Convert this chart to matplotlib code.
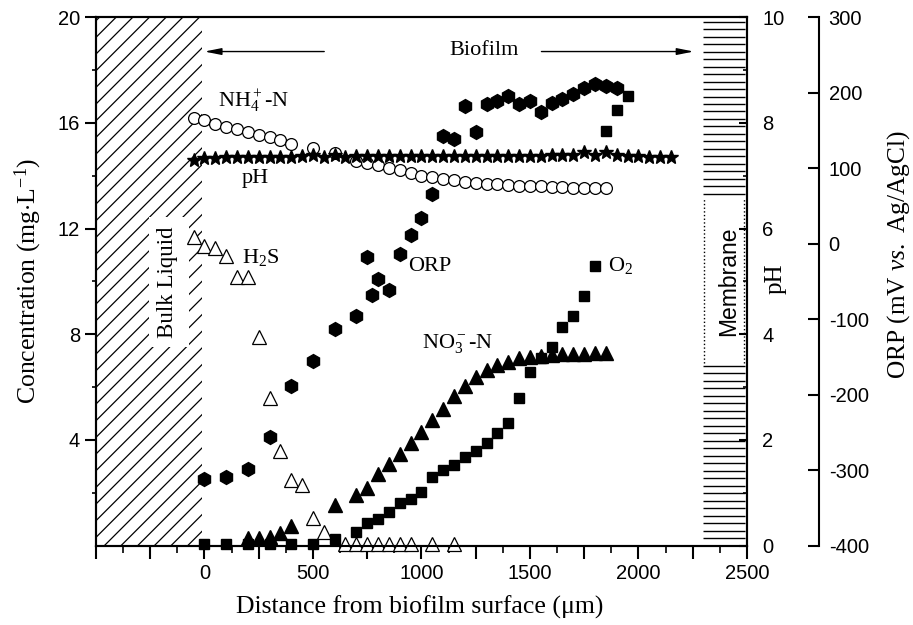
import numpy as np
import matplotlib
matplotlib.use('Agg')
import matplotlib.pyplot as plt
from matplotlib.patches import Rectangle
from matplotlib.ticker import FixedLocator, FuncFormatter

plt.rcParams['font.family'] = ['Liberation Sans', 'DejaVu Sans']
plt.rcParams['mathtext.fontset'] = 'custom'
plt.rcParams['mathtext.rm'] = 'Liberation Serif'
plt.rcParams['mathtext.it'] = 'Liberation Serif:italic'
plt.rcParams['mathtext.bf'] = 'Liberation Serif:bold'
plt.rcParams['hatch.linewidth'] = 0.9
plt.rcParams['axes.unicode_minus'] = False

SERIF = 'Liberation Serif'

# ---------------- data ----------------
nh4_x = [-50, 0, 50, 100, 150, 200, 250, 300, 350, 400, 500, 600, 700, 750, 800, 850, 900,
         950, 1000, 1050, 1100, 1150, 1200, 1250, 1300, 1350, 1400, 1450, 1500, 1550, 1600,
         1650, 1700, 1750, 1800, 1850]
nh4_y = [16.2, 16.1, 15.95, 15.85, 15.78, 15.65, 15.55, 15.45, 15.35, 15.2, 15.05, 14.85,
         14.57, 14.5, 14.4, 14.28, 14.2, 14.12, 14.0, 13.94, 13.88, 13.82, 13.78, 13.74,
         13.70, 13.67, 13.65, 13.63, 13.62, 13.60, 13.58, 13.57, 13.55, 13.54, 13.53, 13.52]

ph_x = [-50, 0, 50, 100, 150, 200, 250, 300, 350, 400, 450, 500, 550, 600, 650, 700, 750,
        800, 850, 900, 950, 1000, 1050, 1100, 1150, 1200, 1250, 1300, 1350, 1400, 1450,
        1500, 1550, 1600, 1650, 1700, 1750, 1800, 1850, 1900, 1950, 2000, 2050, 2100, 2150]
ph_y = [7.30, 7.33, 7.34, 7.35, 7.35, 7.35, 7.36, 7.36, 7.36, 7.36, 7.37, 7.40, 7.36, 7.40,
        7.36, 7.37, 7.37, 7.37, 7.37, 7.37, 7.38, 7.38, 7.38, 7.38, 7.38, 7.38, 7.38, 7.38,
        7.38, 7.38, 7.38, 7.38, 7.38, 7.40, 7.40, 7.40, 7.45, 7.40, 7.45, 7.40, 7.38, 7.37,
        7.36, 7.36, 7.35]

h2s_x = [-50, 0, 50, 100, 150, 200, 250, 300, 350, 400, 450, 500, 550, 650, 700, 750, 800,
         850, 900, 950, 1050, 1150]
h2s_y = [11.7, 11.35, 11.25, 10.95, 10.15, 10.15, 7.9, 5.6, 3.6, 2.5, 2.3, 1.05, 0.5, 0.05,
         0.05, 0.05, 0.05, 0.05, 0.05, 0.05, 0.05, 0.05]

orp_x = [0, 100, 200, 300, 400, 500, 600, 700, 750, 770, 800, 850, 900, 950, 1000, 1050,
         1100, 1150, 1200, 1250, 1300, 1350, 1400, 1450, 1500, 1550, 1600, 1650, 1700, 1750,
         1800, 1850, 1900]
orp_y = [-312, -309, -299, -256, -189, -156, -113, -96, -18, -68, -47, -61, -13, 11, 34, 66,
         142, 138, 182, 148, 185, 189, 196, 185, 189, 174, 186, 191, 198, 206, 212, 209, 206]

no3_x = [200, 250, 300, 350, 400, 600, 700, 750, 800, 850, 900, 950, 1000, 1050, 1100, 1150,
         1200, 1250, 1300, 1350, 1400, 1450, 1500, 1550, 1600, 1650, 1700, 1750, 1800, 1850]
no3_y = [0.28, 0.28, 0.32, 0.47, 0.76, 1.54, 1.92, 2.17, 2.7, 3.09, 3.47, 3.9, 4.29, 4.75,
         5.17, 5.67, 6.06, 6.4, 6.65, 6.84, 6.96, 7.09, 7.13, 7.18, 7.22, 7.26, 7.26, 7.26,
         7.28, 7.28]

o2_x = [0, 100, 200, 300, 400, 500, 600, 700, 750, 800, 850, 900, 950, 1000, 1050, 1100,
        1150, 1200, 1250, 1300, 1350, 1400, 1450, 1500, 1550, 1600, 1650, 1700, 1750, 1800,
        1850, 1900, 1950]
o2_y = [0.05, 0.05, 0.05, 0.05, 0.05, 0.05, 0.24, 0.53, 0.85, 1.0, 1.26, 1.63, 1.77, 2.04,
        2.61, 2.85, 3.05, 3.34, 3.6, 3.9, 4.28, 4.63, 5.58, 6.59, 7.09, 7.53, 8.27, 8.69,
        9.43, 10.59, 15.7, 16.49, 17.02]

x_major = [-500, -250, 0, 250, 500, 750, 1000, 1250, 1500, 1750, 2000, 2250, 2500]
conc_ticks = [4, 8, 12, 16, 20]
ph_ticks = [0, 2, 4, 6, 8, 10]
orp_ticks = [-400, -300, -200, -100, 0, 100, 200, 300]

# ---------------- figure ----------------
fig = plt.figure(figsize=(9.13, 6.25), dpi=100)
ax = fig.add_axes([0.1051, 0.1269, 0.7130, 0.8456])
ax.set_xlim(-500, 2500)
ax.set_ylim(0, 20)

for s in ax.spines.values():
    s.set_linewidth(1.5)

# bulk liquid hatch
ax.add_patch(Rectangle((-500, 0), 490, 20, facecolor='none', edgecolor='black',
                       hatch='//', lw=0, zorder=1))
ax.add_patch(Rectangle((-256, 7.52), 184, 4.92, facecolor='white', edgecolor='none',
                       zorder=1.5))
ax.text(-170, 9.98, 'Bulk Liquid', rotation=90, ha='center', va='center',
        fontsize=16.5, fontfamily=SERIF, zorder=2)

# membrane hatch
mem_lines = np.linspace(0.29, 19.83, 70)
mem_lines = mem_lines[(mem_lines < 6.9) | (mem_lines > 13.15)]
ax.hlines(mem_lines, 2297, 2491, colors='black', lw=1.0, zorder=1)
ax.vlines([2300, 2488], 6.9, 13.15, colors='black', linestyles=':', lw=1.0, zorder=1)
ax.text(2416, 10.0, 'Membrane', rotation=90, ha='center', va='center', fontsize=16.5, zorder=2)

# arrows and Biofilm text
ax.annotate('', xy=(0, 18.7), xytext=(552, 18.7),
            arrowprops=dict(arrowstyle='-|>,head_length=1.0,head_width=0.2',
                            color='black', lw=1.0, shrinkA=0, shrinkB=0))
ax.annotate('', xy=(2255, 18.7), xytext=(1553, 18.7),
            arrowprops=dict(arrowstyle='-|>,head_length=1.0,head_width=0.2',
                            color='black', lw=1.0, shrinkA=0, shrinkB=0))
ax.text(1290, 18.75, 'Biofilm', ha='center', va='center', fontsize=16, fontfamily=SERIF)

# concentration series
ax.plot(nh4_x, nh4_y, 'o', ms=8.5, mfc='white', mec='black', mew=0.9, zorder=3, clip_on=False)
ax.plot(h2s_x, h2s_y, '^', ms=9.5, mfc='white', mec='black', mew=0.9, zorder=3, clip_on=False)
ax.plot(no3_x, no3_y, '^', ms=9.5, color='black', zorder=3, clip_on=False)
ax.plot(o2_x, o2_y, 's', ms=7.5, color='black', zorder=3, clip_on=False)

# series labels
ax.text(224, 16.85, r'NH$_4^+$-N', ha='center', va='center', fontsize=16, fontfamily=SERIF)
ax.text(232, 13.9, 'pH', ha='center', va='center', fontsize=16, fontfamily=SERIF)
ax.text(261, 10.9, r'H$_2$S', ha='center', va='center', fontsize=16, fontfamily=SERIF)
ax.text(1037, 10.55, 'ORP', ha='center', va='center', fontsize=16, fontfamily=SERIF)
ax.text(1918, 10.6, r'O$_2$', ha='center', va='center', fontsize=16, fontfamily=SERIF)
ax.text(1166, 7.67, r'NO$_3^-$-N', ha='center', va='center', fontsize=16, fontfamily=SERIF)

# x axis ticks
ax.xaxis.set_major_locator(FixedLocator(x_major))
ax.xaxis.set_minor_locator(FixedLocator(np.array(x_major[:-1]) + 125))
ax.xaxis.set_major_formatter(FuncFormatter(
    lambda v, p: f'{int(v)}' if (v >= 0 and int(v) % 500 == 0) else ''))
ax.tick_params(axis='x', which='major', direction='out', length=9, width=1.5,
               labelsize=14.5, pad=4, top=False)
ax.tick_params(axis='x', which='minor', direction='out', length=5, width=1.2, top=False)

# left y ticks
ax.yaxis.set_major_locator(FixedLocator(conc_ticks))
ax.yaxis.set_minor_locator(FixedLocator([2, 6, 10, 14, 18]))
ax.tick_params(axis='y', which='major', direction='out', length=8, width=1.5,
               labelsize=14.5, right=False)
ax.tick_params(axis='y', which='minor', direction='out', length=3, width=1.2, right=False)

# pH axis
ax2 = ax.twinx()
ax2.set_ylim(0, 10)
ax2.plot(ph_x, ph_y, '*', ms=10, color='black', zorder=3)
ax2.yaxis.set_major_locator(FixedLocator(ph_ticks))
ax2.yaxis.set_minor_locator(FixedLocator([1, 3, 5, 7, 9]))
ax2.tick_params(axis='y', which='major', direction='in', length=6, width=1.5,
                labelsize=14.5, pad=11)
ax2.tick_params(axis='y', which='minor', direction='in', length=3, width=1.2)
for s in ax2.spines.values():
    s.set_linewidth(1.5)

# ORP axis
ax3 = ax.twinx()
ax3.set_ylim(-400, 300)
ax3.spines['right'].set_position(('axes', 1.1106))
for k in ['top', 'left', 'bottom']:
    ax3.spines[k].set_visible(False)
ax3.spines['right'].set_linewidth(1.5)
ax3.plot(orp_x, orp_y, 'h', ms=10, color='black', zorder=3)
ax3.yaxis.set_major_locator(FixedLocator(orp_ticks))
ax3.tick_params(axis='y', which='major', direction='in', length=8, width=1.5,
                labelsize=14.5, pad=7)

# axis titles
ax.text(0.498, -0.116, 'Distance from biofilm surface (μm)', transform=ax.transAxes,
        ha='center', va='center', fontsize=18.5, fontfamily=SERIF)
ax.text(-0.104, 0.501, r'Concentration (mg$\cdot$L$^{-1}$)', transform=ax.transAxes,
        rotation=90, ha='center', va='center', fontsize=18.5, fontfamily=SERIF)
ax.text(1.044, 0.505, 'pH', transform=ax.transAxes, rotation=90, ha='center', va='center',
        fontsize=18, fontfamily=SERIF)
ax.text(1.2335, 0.55, r'ORP (mV $\it{vs.}$ Ag/AgCl)', transform=ax.transAxes, rotation=90,
        ha='center', va='center', fontsize=18.3, fontfamily=SERIF)

fig.savefig('out.png', dpi=100)
